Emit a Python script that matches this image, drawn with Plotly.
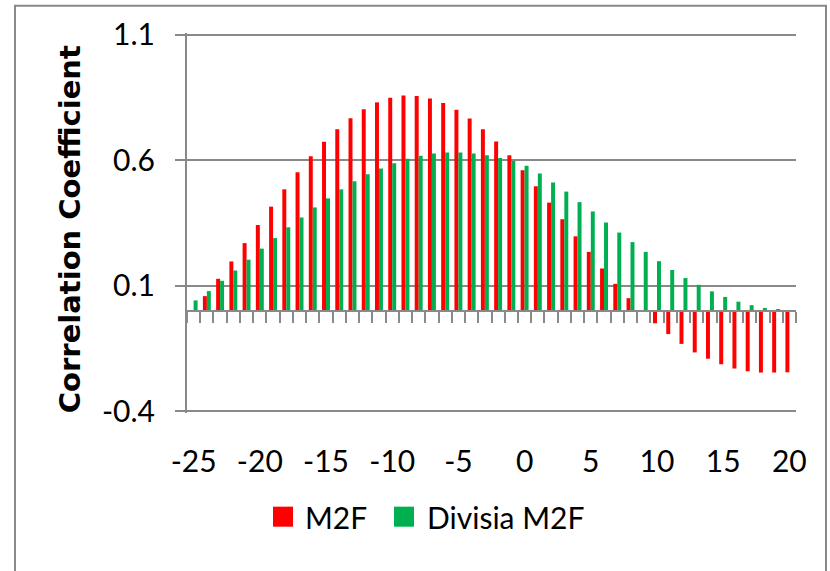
import plotly.graph_objects as go

lags = list(range(-25, 21))
categories = [str(v) for v in lags]

m2f = [0.0, 0.059, 0.128, 0.197, 0.270, 0.342, 0.415, 0.484, 0.552, 0.616,
       0.673, 0.723, 0.767, 0.803, 0.830, 0.848, 0.857, 0.855, 0.845, 0.827,
       0.801, 0.766, 0.723, 0.674, 0.620, 0.560, 0.496, 0.431, 0.365, 0.297,
       0.235, 0.169, 0.108, 0.051, 0.0, -0.049, -0.092, -0.131, -0.165, -0.190,
       -0.212, -0.229, -0.240, -0.245, -0.245, -0.244]

divisia_m2f = [0.042, 0.079, 0.120, 0.161, 0.204, 0.248, 0.290, 0.333, 0.372, 0.412,
               0.448, 0.484, 0.516, 0.544, 0.567, 0.588, 0.606, 0.618, 0.627, 0.631,
               0.631, 0.627, 0.620, 0.609, 0.597, 0.578, 0.547, 0.511, 0.475, 0.433,
               0.396, 0.352, 0.312, 0.274, 0.235, 0.198, 0.163, 0.131, 0.104, 0.078,
               0.056, 0.037, 0.023, 0.012, 0.007, 0.002]

series_names = ["M2F", "Divisia M2F"]
y_title = "Correlation Coefficient"
y_ticks = [-0.4, 0.1, 0.6, 1.1]
x_label_ticks = ["-25", "-20", "-15", "-10", "-5", "0", "5", "10", "15", "20"]

RED = "#FF0000"
GREEN = "#00B050"
GRAY = "#898989"
FONT_FAMILY = "Lato, Liberation Sans, sans-serif"
TICKFONT = dict(family=FONT_FAMILY, size=30, color="black")

fig = go.Figure()
fig.add_trace(go.Bar(x=categories, y=m2f, name=series_names[0],
                     marker=dict(color=RED, line=dict(width=0)), showlegend=False))
fig.add_trace(go.Bar(x=categories, y=divisia_m2f, name=series_names[1],
                     marker=dict(color=GREEN, line=dict(width=0)), showlegend=False))
# helper trace on the zero-crossing axis
fig.add_trace(go.Bar(x=categories, y=[None] * len(categories), xaxis="x2", showlegend=False,
                     hoverinfo="skip"))

ymin, ymax = -0.4, 1.1
pad = 0.006
px_per_unit = 251.0
plot_top = 34.7 - pad * px_per_unit
plot_bottom = 411.0 + pad * px_per_unit
plot_left, plot_right = 187.0, 796.0
W, H = 830, 571
plot_w = plot_right - plot_left
plot_h = plot_bottom - plot_top


def px_x(x):
    return (x - plot_left) / plot_w


def px_y(y):
    return (plot_bottom - y) / plot_h


# manual legend (square swatches + real text)
legend_items = [(series_names[0], RED, 273, 303), (series_names[1], GREEN, 394, 425)]
shapes = [dict(type="rect", xref="paper", yref="paper",
               x0=px_x(15), x1=px_x(826), y0=px_y(585), y1=px_y(6),
               line=dict(color=GRAY, width=2), fillcolor="rgba(0,0,0,0)", layer="below")]
annotations = [dict(xref="paper", yref="paper", x=px_x(70), y=px_y(229),
                    xanchor="center", yanchor="middle", textangle=-90,
                    text="<b>" + y_title + "</b>", showarrow=False,
                    font=dict(family="DejaVu Sans", size=29, color="black"))]
for name, color, sx, tx in legend_items:
    shapes.append(dict(type="rect", xref="paper", yref="paper",
                       x0=px_x(sx), x1=px_x(sx + 20), y0=px_y(526), y1=px_y(506),
                       line=dict(width=0), fillcolor=color))
    annotations.append(dict(xref="paper", yref="paper", x=px_x(tx), y=px_y(516),
                            xanchor="left", yanchor="middle", text=name, showarrow=False,
                            font=TICKFONT))

fig.update_layout(
    width=W, height=H,
    margin=dict(l=plot_left, r=W - plot_right, t=plot_top, b=H - plot_bottom),
    paper_bgcolor="white", plot_bgcolor="white",
    barmode="group", bargap=0.4, bargroupgap=0.0,
    showlegend=False,
    xaxis=dict(type="category", categoryorder="array", categoryarray=categories,
               range=[-0.5, len(categories) - 0.5],
               tickmode="array", tickvals=x_label_ticks, ticktext=x_label_ticks,
               ticks="", showline=False, showgrid=False, zeroline=False,
               tickfont=TICKFONT, ticklabelstandoff=28),
    xaxis2=dict(type="category", categoryorder="array", categoryarray=categories,
                overlaying="x", matches="x", anchor="free",
                position=(0 - (ymin - pad)) / (ymax - ymin + 2 * pad), side="bottom",
                range=[-0.5, len(categories) - 0.5],
                tickmode="linear", dtick=1, tickson="boundaries",
                ticks="outside", ticklen=11, tickwidth=2, tickcolor=GRAY,
                showticklabels=False, showline=True, linecolor=GRAY, linewidth=2,
                showgrid=False, zeroline=False),
    yaxis=dict(range=[ymin - pad, ymax + pad], tickmode="array", tickvals=y_ticks,
               ticktext=["-0.4", "0.1", "0.6", "1.1"],
               showgrid=True, gridcolor=GRAY, gridwidth=2,
               showline=True, linecolor=GRAY, linewidth=2,
               ticks="outside", ticklen=10, tickwidth=2, tickcolor=GRAY,
               zeroline=False, tickfont=TICKFONT, ticklabelstandoff=14),
    shapes=shapes,
    annotations=annotations,
)

fig.write_html("out.html")
